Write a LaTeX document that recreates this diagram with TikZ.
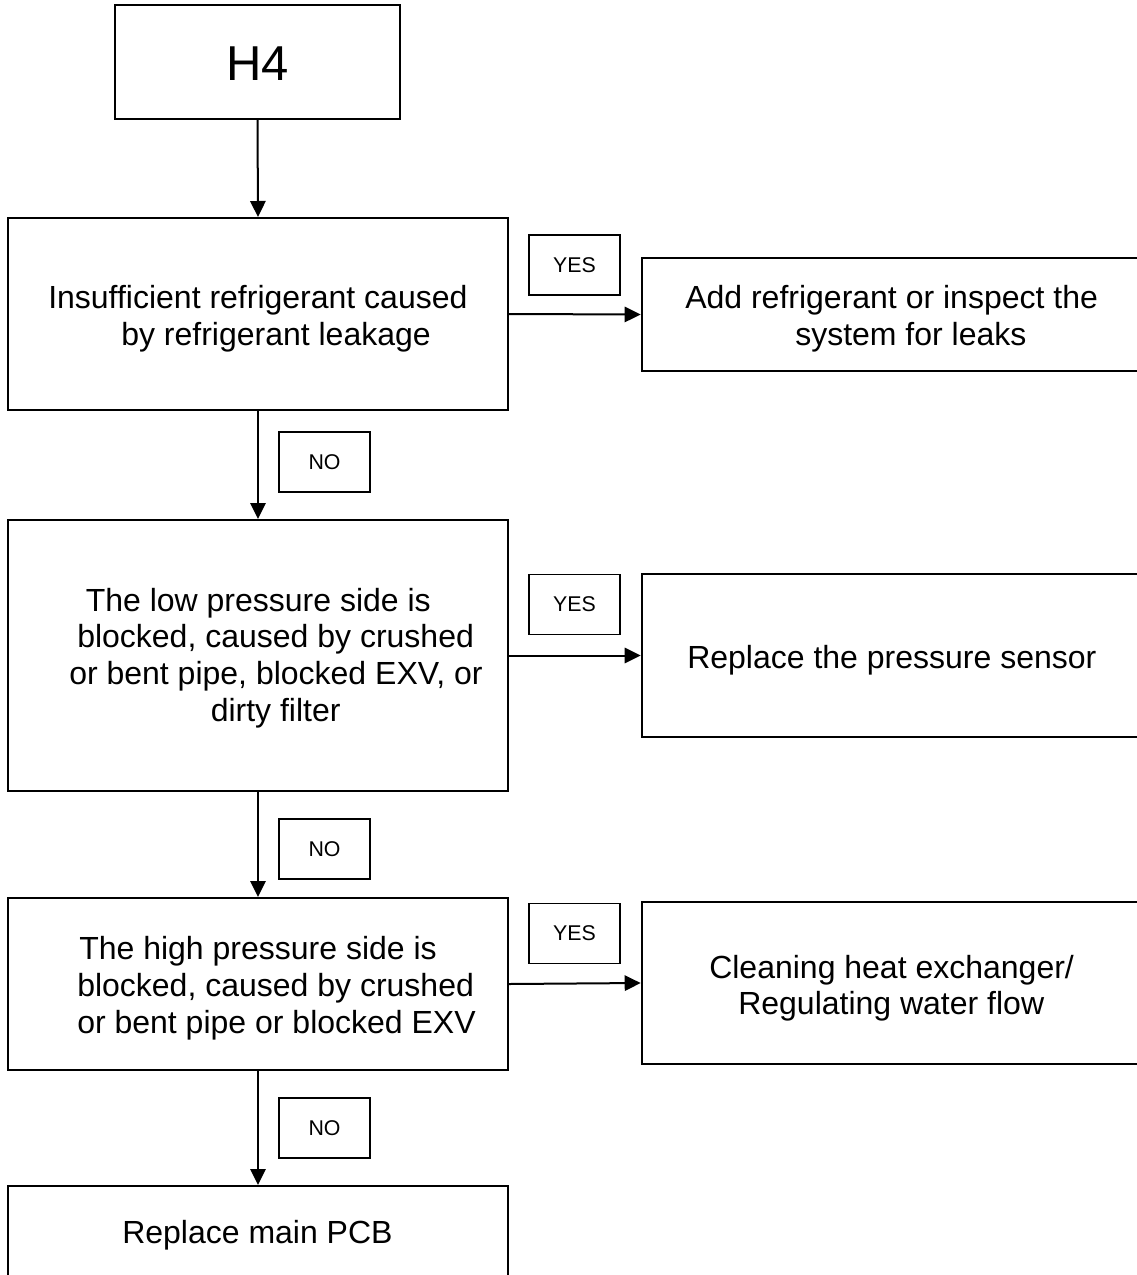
\documentclass[tikz,border=0pt]{standalone}
\usepackage{fontspec}
\setmainfont{Liberation Sans}
\usetikzlibrary{arrows.meta}
\tikzset{
  box/.style 2 args={draw=black, line width=1.5pt, rectangle, inner sep=0pt,
    minimum width=#1*0.75pt, minimum height=#2*0.75pt},
  tag/.style={draw=black, line width=1.4pt, rectangle, inner sep=0pt,
    minimum width=91*0.75pt, minimum height=60*0.75pt,
    font=\fontsize{16}{19}\selectfont},
  txt/.style={anchor=base west, inner sep=0pt, font=\fontsize{24}{28}\selectfont},
  arr/.style={line width=1.5pt, -{Triangle[length=12pt,width=11.5pt]}}
}
\begin{document}
\begin{tikzpicture}[x=0.75pt,y=-0.75pt]
\useasboundingbox (0,0) rectangle (1137,1275);
\clip (0,0) rectangle (1137,1275);
\fill[white] (0,0) rectangle (1137,1275);

% main boxes
\node[box={285}{114}] (h4) at (257.5,62) {};
\node[box={500}{192}] (b1) at (258,314) {};
\node[box={500}{271}] (b2) at (258,655.5) {};
\node[box={500}{172}] (b3) at (258,984) {};
\node[box={500}{114}] (b4) at (258,1243) {};

% right boxes
\node[box={503.3}{113}] (r1) at (893.35,314.5) {};
\node[box={503.3}{163}] (r2) at (893.35,655.5) {};
\node[box={503.3}{162}] (r3) at (893.35,983) {};

% labels
\node[tag] (y1) at (574.5,265) {YES};
\node[tag] (y2) at (574.5,604.5) {YES};
\node[tag] (y3) at (574.5,933.5) {YES};
\node[tag] (n1) at (324.5,462) {NO};
\node[tag] (n2) at (324.5,849) {NO};
\node[tag] (n3) at (324.5,1128) {NO};

% texts
\node[anchor=base, inner sep=0pt, font=\fontsize{36.75}{44}\selectfont] (th4) at (257.5,80) {H4};

\node[txt] (t1a) at (48,308.5) {Insufficient refrigerant caused};
\node[txt] (t1b) at (121,345.5) {by refrigerant leakage};

\node[txt] (s1a) at (685,308.5) {Add refrigerant or inspect the};
\node[txt] (s1b) at (795,345.5) {system for leaks};

\node[txt] (t2a) at (85.5,611) {The low pressure side is};
\node[txt] (t2b) at (77,647.7) {blocked, caused by crushed};
\node[txt] (t2c) at (69,684.4) {or bent pipe, blocked EXV, or};
\node[txt] (t2d) at (210.5,721.5) {dirty filter};

\node[txt] (s2a) at (687,668.5) {Replace the pressure sensor};

\node[txt] (t3a) at (79,959.5) {The high pressure side is};
\node[txt] (t3b) at (77,996.5) {blocked, caused by crushed};
\node[txt] (t3c) at (77,1033.5) {or bent pipe or blocked EXV};

\node[txt] (s3a) at (709,978.5) {Cleaning heat exchanger/};
\node[txt] (s3b) at (738,1014.5) {Regulating water flow};

\node[txt] (t4a) at (122,1243) {Replace main PCB};

% connectors
\draw[arr] (h4.south) -- (b1.north);
\draw[arr] (b1.south) -- (b2.north);
\draw[arr] (b2.south) -- (b3.north);
\draw[arr] (b3.south) -- (b4.north);
\draw[arr] (b1.east) -- (r1.west);
\draw[arr] (b2.east) -- (r2.west);
\draw[arr] (b3.east) -- (r3.west);
\end{tikzpicture}
\end{document}
